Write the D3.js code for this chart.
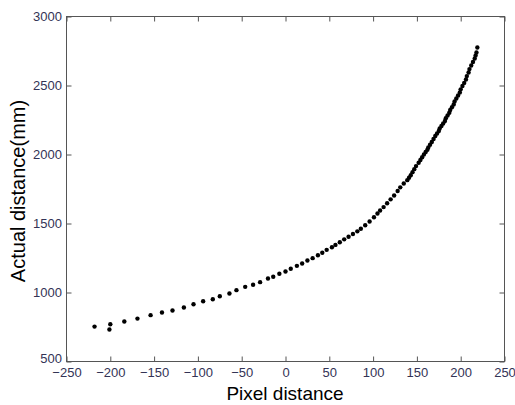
<!DOCTYPE html>
<html>
<head>
<meta charset="utf-8">
<script src="https://cdn.jsdelivr.net/npm/d3@7"></script>
<style>
  body { margin: 0; background: #fff; }
  svg { display: block; }
</style>
</head>
<body>
<svg id="chart"></svg>
<script>
// pixel distance (x) and actual distance in mm (y)
const pixelDist = [
  -218, -201, -200, -184, -169, -154, -141, -129, -116, -105,
  -94, -83, -75, -64, -56, -46, -37, -29, -20, -14,
  -7, 0, 6, 13, 19, 25, 31, 37, 42, 47,
  53, 57, 62, 67, 72, 77, 82, 86, 91, 96,
  101, 105, 108, 112, 116, 120, 124, 128, 131, 135,
  139, 141, 143, 145, 147, 149, 152, 154, 156, 158,
  160, 162, 163, 165, 167, 169, 171, 173, 175, 176,
  178, 180, 182, 183, 185, 187, 188, 190, 192, 193,
  195, 197, 199, 200, 202, 204, 206, 207, 209, 210,
  212, 214, 216, 217, 218, 219
];
const actualDist = [
  753, 732, 770, 790, 811, 836, 855, 870, 891, 915,
  937, 951, 973, 993, 1017, 1041, 1056, 1075, 1101, 1114,
  1136, 1152, 1172, 1193, 1210, 1232, 1249, 1270, 1288, 1309,
  1328, 1345, 1364, 1385, 1404, 1424, 1443, 1462, 1487, 1515,
  1545, 1572, 1594, 1619, 1647, 1675, 1703, 1735, 1762, 1790,
  1814, 1832, 1850, 1872, 1894, 1916, 1940, 1960, 1980, 2000,
  2018, 2034, 2051, 2071, 2091, 2112, 2134, 2152, 2170, 2188,
  2207, 2225, 2243, 2263, 2283, 2302, 2322, 2342, 2362, 2384,
  2406, 2427, 2449, 2472, 2496, 2519, 2543, 2568, 2594, 2619,
  2645, 2670, 2696, 2718, 2739, 2775
];
const xTicks = [-250, -200, -150, -100, -50, 0, 50, 100, 150, 200, 250];
const yTicks = [500, 1000, 1500, 2000, 2500, 3000];

const width = 515;
const height = 405;
const margin = { left: 66, top: 16, right: 11, bottom: 44 };
const plotW = width - margin.left - margin.right;
const plotH = height - margin.top - margin.bottom;

const svg = d3.select("#chart").attr("width", width).attr("height", height);

const xScale = d3.scaleLinear().domain([-250, 250]).range([0, plotW]);
const yScale = d3.scaleLinear().domain([500, 3000]).range([plotH, 0]);

const g = svg.append("g")
  .attr("transform", "translate(" + (margin.left + 0.5) + "," + (margin.top + 0.5) + ")");

const tickColor = "#333355";
const axisColor = "#555";
const fmt = d3.format("d");

const styleAxis = (sel) => {
  sel.select(".domain").remove();
  sel.selectAll(".tick line").attr("stroke", axisColor);
  sel.selectAll(".tick text")
    .attr("fill", tickColor)
    .style("font-family", "Arial, 'Liberation Sans', sans-serif")
    .style("font-size", "13px");
};

// bottom & left axes with labels, ticks pointing inward
g.append("g")
  .attr("transform", "translate(0," + plotH + ")")
  .call(d3.axisBottom(xScale).tickValues(xTicks).tickFormat(fmt).tickSize(-5).tickPadding(6))
  .call(styleAxis);

g.append("g")
  .call(d3.axisLeft(yScale).tickValues(yTicks).tickFormat(fmt).tickSize(-5).tickPadding(4.5))
  .call(styleAxis)
  .selectAll(".tick text")
  .attr("dy", (d) => (d === 500 ? "0.1em" : "0.32em"));

// top & right ticks only
g.append("g")
  .call(d3.axisTop(xScale).tickValues(xTicks).tickSize(-5).tickFormat(""))
  .call(styleAxis);

g.append("g")
  .attr("transform", "translate(" + plotW + ",0)")
  .call(d3.axisRight(yScale).tickValues(yTicks).tickSize(-5).tickFormat(""))
  .call(styleAxis);

// box
g.append("rect")
  .attr("x", 0).attr("y", 0)
  .attr("width", plotW).attr("height", plotH)
  .attr("fill", "none")
  .attr("stroke", axisColor)
  .attr("stroke-width", 1);

// points
g.selectAll("circle.dot")
  .data(pixelDist.map((d, i) => [d, actualDist[i]]))
  .enter()
  .append("circle")
  .attr("class", "dot")
  .attr("cx", (d) => xScale(d[0]))
  .attr("cy", (d) => yScale(d[1]))
  .attr("r", 2.2)
  .attr("fill", "#000");

// axis titles
svg.append("text")
  .text("Pixel distance")
  .attr("x", margin.left + plotW / 2)
  .attr("y", 400)
  .attr("text-anchor", "middle")
  .style("font-family", "Arial, 'Liberation Sans', sans-serif")
  .style("font-size", "19px")
  .attr("fill", "#000");

svg.append("text")
  .text("Actual distance(mm)")
  .attr("transform", "translate(25,191) rotate(-90)")
  .attr("text-anchor", "middle")
  .style("font-family", "Arial, 'Liberation Sans', sans-serif")
  .style("font-size", "20px")
  .attr("fill", "#000");
</script>
</body>
</html>
